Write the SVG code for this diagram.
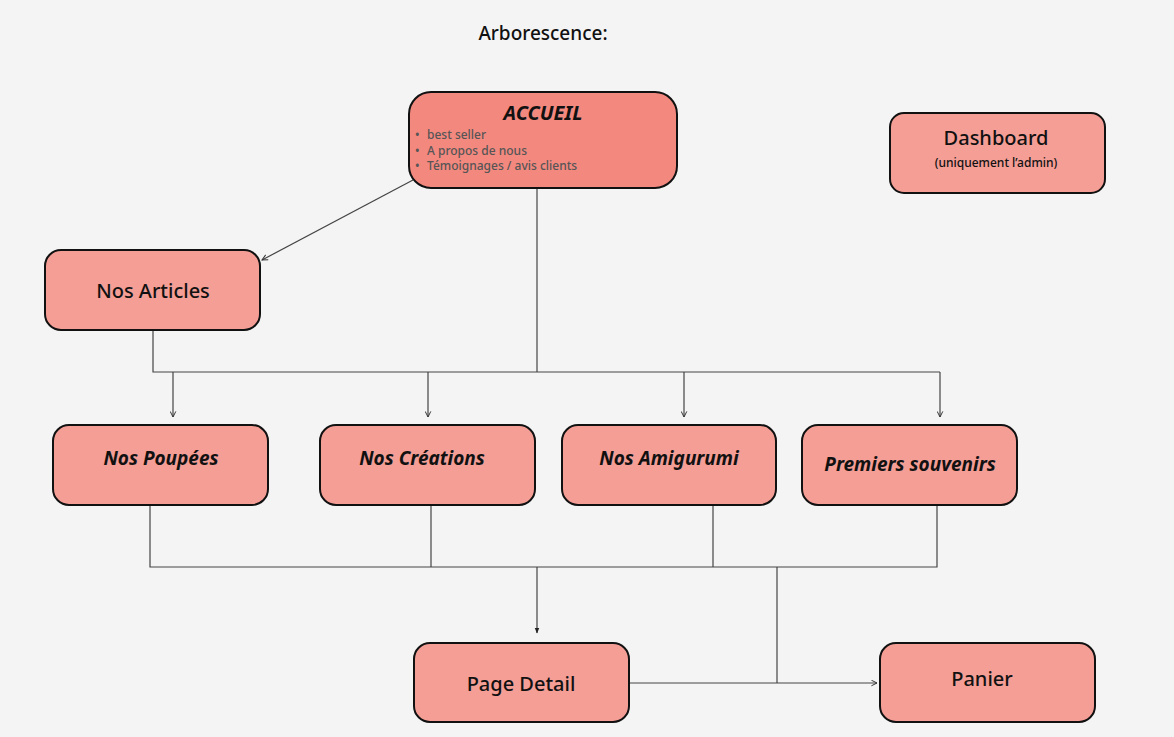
<svg xmlns="http://www.w3.org/2000/svg" width="1174" height="737" viewBox="0 0 1174 737">
<defs>
<marker id="ah" viewBox="0 0 10 10" refX="9" refY="5" markerWidth="7" markerHeight="7" orient="auto" markerUnits="userSpaceOnUse">
<path d="M1,1 L9,5 L1,9" fill="none" stroke="#333" stroke-width="1.4"/>
</marker>
<marker id="af" viewBox="0 0 10 10" refX="9" refY="5" markerWidth="6" markerHeight="6" orient="auto" markerUnits="userSpaceOnUse">
<path d="M0,1 L10,5 L0,9 Z" fill="#222"/>
</marker>
</defs>
<style>
text{font-family:"Noto Sans","Open Sans",sans-serif;fill:#111}
.box{fill:#f49e96;stroke:#111;stroke-width:2}
.lbl{font-size:20px;font-weight:500;text-anchor:middle}
.it{font-size:19px;font-weight:bold;font-style:italic;text-anchor:middle}
.bul{font-size:12px;fill:#555;font-weight:500}
.c{fill:none;stroke:#444;stroke-width:1.2}
</style>
<rect width="1174" height="737" fill="#f4f4f4"/>
<text x="543" y="40" font-size="19" font-weight="500" text-anchor="middle">Arborescence:</text>
<g id="connectors">
<line class="c" x1="413" y1="180" x2="262" y2="260" marker-end="url(#ah)"/>
<polyline class="c" points="537,188 537,372"/>
<polyline class="c" points="153,330 153,372 940,372"/>
<line class="c" x1="173" y1="372" x2="173" y2="417" marker-end="url(#ah)"/>
<line class="c" x1="428" y1="372" x2="428" y2="417" marker-end="url(#ah)"/>
<line class="c" x1="684" y1="372" x2="684" y2="417" marker-end="url(#ah)"/>
<line class="c" x1="940" y1="372" x2="940" y2="417" marker-end="url(#ah)"/>
<polyline class="c" points="150,505 150,567 937,567 937,505"/>
<line class="c" x1="431" y1="505" x2="431" y2="567"/>
<line class="c" x1="713" y1="505" x2="713" y2="567"/>
<line class="c" x1="537" y1="567" x2="537" y2="633" marker-end="url(#af)"/>
<line class="c" x1="777" y1="567" x2="777" y2="683"/>
<line class="c" x1="629" y1="683" x2="877" y2="683" marker-end="url(#ah)"/>
</g>
<g id="accueil">
<rect x="409" y="92" width="268" height="96" rx="22" fill="#f3887f" stroke="#111" stroke-width="2"/>
<text x="543" y="120" font-size="20" font-weight="bold" font-style="italic" text-anchor="middle">ACCUEIL</text>
<text class="bul" x="415" y="139">•</text>
<text class="bul" x="427" y="139">best seller</text>
<text class="bul" x="415" y="155">•</text>
<text class="bul" x="427" y="155">A propos de nous</text>
<text class="bul" x="415" y="170">•</text>
<text class="bul" x="427" y="170">Témoignages / avis clients</text>
</g>
<g id="dashboard">
<rect class="box" x="890" y="113" width="215" height="80" rx="14"/>
<text class="lbl" x="996" y="145">Dashboard</text>
<text x="996" y="167" font-size="12" font-weight="500" text-anchor="middle">(uniquement l’admin)</text>
</g>
<g id="nos-articles">
<rect class="box" x="45" y="250" width="215" height="80" rx="16"/>
<text class="lbl" x="153" y="298">Nos Articles</text>
</g>
<g id="nos-poupees">
<rect class="box" x="53" y="425" width="215" height="80" rx="16"/>
<text class="it" x="161" y="465">Nos Poupées</text>
</g>
<g id="nos-creations">
<rect class="box" x="320" y="425" width="215" height="80" rx="16"/>
<text class="it" x="422" y="465">Nos Créations</text>
</g>
<g id="nos-amigurumi">
<rect class="box" x="562" y="425" width="214" height="80" rx="16"/>
<text class="it" x="669" y="465">Nos Amigurumi</text>
</g>
<g id="premiers-souvenirs">
<rect class="box" x="802" y="425" width="215" height="80" rx="16"/>
<text class="it" x="910" y="471">Premiers souvenirs</text>
</g>
<g id="page-detail">
<rect class="box" x="414" y="643" width="215" height="79" rx="16"/>
<text class="lbl" x="521" y="691">Page Detail</text>
</g>
<g id="panier">
<rect class="box" x="880" y="643" width="215" height="79" rx="16"/>
<text class="lbl" x="982" y="686">Panier</text>
</g>
</svg>
